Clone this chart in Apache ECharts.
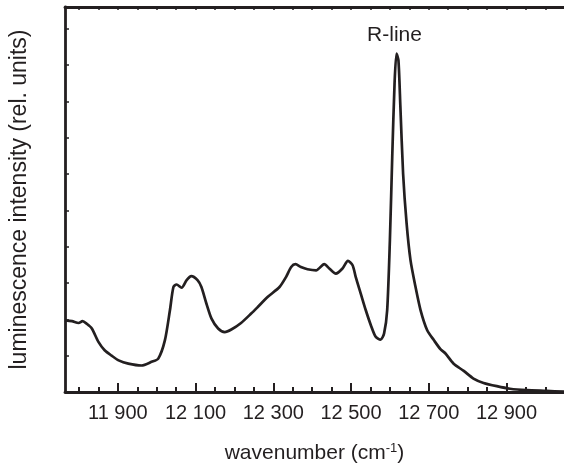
<!DOCTYPE html>
<html>
<head>
<meta charset="utf-8">
<script src="https://cdn.jsdelivr.net/npm/echarts@6/dist/echarts.min.js"></script>
<style>
html,body{margin:0;padding:0;background:#fff;}
#chart{width:564px;height:473px;}
</style>
</head>
<body>
<div id="chart"></div>
<script>
// wavenumber (cm^-1)
const wavenumbers = [11764,11782,11799,11809,11820,11833,11850,11866,11884,11902,11927,11961,11987,12004,12021,12034,12043,12051,12064,12077,12089,12105,12115,12128,12141,12158,12175,12192,12217,12243,12260,12286,12316,12333,12346,12357,12371,12388,12410,12431,12444,12461,12478,12492,12504,12512,12525,12538,12551,12563,12576,12585,12593,12600,12606,12612,12617,12622,12627,12634,12643,12653,12666,12679,12696,12713,12730,12743,12764,12790,12815,12841,12875,12909,12952,13003,13048];
// luminescence intensity (rel. units)
const intensity = [1.97,1.95,1.90,1.95,1.88,1.75,1.38,1.15,1.00,0.87,0.78,0.73,0.83,0.92,1.42,2.25,2.89,2.96,2.87,3.08,3.19,3.08,2.89,2.43,2.02,1.75,1.65,1.72,1.90,2.16,2.34,2.62,2.89,3.17,3.44,3.52,3.44,3.38,3.35,3.52,3.40,3.26,3.40,3.61,3.49,3.17,2.71,2.25,1.84,1.53,1.44,1.61,2.25,4.18,6.47,8.49,9.32,9.13,7.85,6.01,4.64,3.63,2.89,2.25,1.70,1.43,1.18,1.06,0.78,0.58,0.37,0.25,0.16,0.09,0.05,0.03,0.01];
const majorTicks = [11900,12100,12300,12500,12700,12900];
const minorTicks = [11800,11850,11900,11950,12000,12050,12100,12150,12200,12250,12300,12350,12400,12450,12500,12550,12600,12650,12700,12750,12800,12850,12900,12950,13000];
const peakLabel = {name: 'R-line', x: 12617, y: 9.32};

const FONT = '"Liberation Sans", Arial, Helvetica, sans-serif';
const INK = '#231f20';
const xMin = 11764, xMax = 13048;

const chart = echarts.init(document.getElementById('chart'), null, {renderer: 'canvas'});
const fmt = v => { const s = String(v); return s.slice(0, 2) + ' ' + s.slice(2); };

chart.setOption({
  animation: false,
  backgroundColor: '#fff',
  grid: {left: 63, top: 7, right: 0, bottom: 81, containLabel: false},
  xAxis: [
    {
      type: 'value', position: 'bottom', min: xMin, max: xMax,
      axisLine: {show: true, lineStyle: {color: INK, width: 2.8}},
      axisTick: {show: true, inside: true, length: 9, customValues: majorTicks, lineStyle: {color: INK, width: 2}},
      axisLabel: {show: true, customValues: majorTicks, formatter: fmt, margin: 11, color: INK, fontSize: 20, fontFamily: FONT},
      splitLine: {show: false},
      name: 'wavenumber (cm{sup|-1})',
      nameLocation: 'middle', nameGap: 50,
      nameTextStyle: {color: INK, fontSize: 21, fontFamily: FONT, lineHeight: 23,
        rich: {sup: {fontSize: 13, fontFamily: FONT, color: INK, verticalAlign: 'top', lineHeight: 23, padding: [0, 0, 11, 0]}}}
    },
    {
      type: 'value', position: 'bottom', min: xMin, max: xMax, gridIndex: 0,
      axisLine: {show: false},
      axisTick: {show: true, inside: true, length: 5, customValues: minorTicks, lineStyle: {color: INK, width: 2}},
      axisLabel: {show: false},
      splitLine: {show: false}
    },
    {
      type: 'value', position: 'top', min: xMin, max: xMax, gridIndex: 0,
      axisLine: {show: true, lineStyle: {color: INK, width: 2.8}},
      axisTick: {show: true, inside: true, length: 3, customValues: minorTicks, lineStyle: {color: INK, width: 1.5}},
      axisLabel: {show: false},
      splitLine: {show: false}
    }
  ],
  yAxis: {
    type: 'value', min: 0, max: 10.6, interval: 1,
    axisLine: {show: true, lineStyle: {color: INK, width: 2.8}},
    axisTick: {show: true, inside: true, length: 4, lineStyle: {color: INK, width: 1.5}},
    axisLabel: {show: false},
    splitLine: {show: false},
    name: 'luminescence intensity (rel. units)',
    nameLocation: 'middle', nameGap: 34,
    nameTextStyle: {color: INK, fontSize: 23, fontFamily: FONT}
  },
  series: [{
    type: 'line',
    xAxisIndex: 0,
    data: wavenumbers.map((w, i) => [w, intensity[i]]),
    showSymbol: false,
    smooth: 0.25,
    lineStyle: {color: INK, width: 2.7},
    markPoint: {
      symbol: 'circle', symbolSize: 0,
      data: [{coord: [peakLabel.x, peakLabel.y], value: peakLabel.name}],
      label: {show: true, position: 'top', distance: 8, offset: [-2, 0], formatter: peakLabel.name,
        color: INK, fontSize: 21, fontFamily: FONT}
    }
  }]
});
</script>
</body>
</html>
